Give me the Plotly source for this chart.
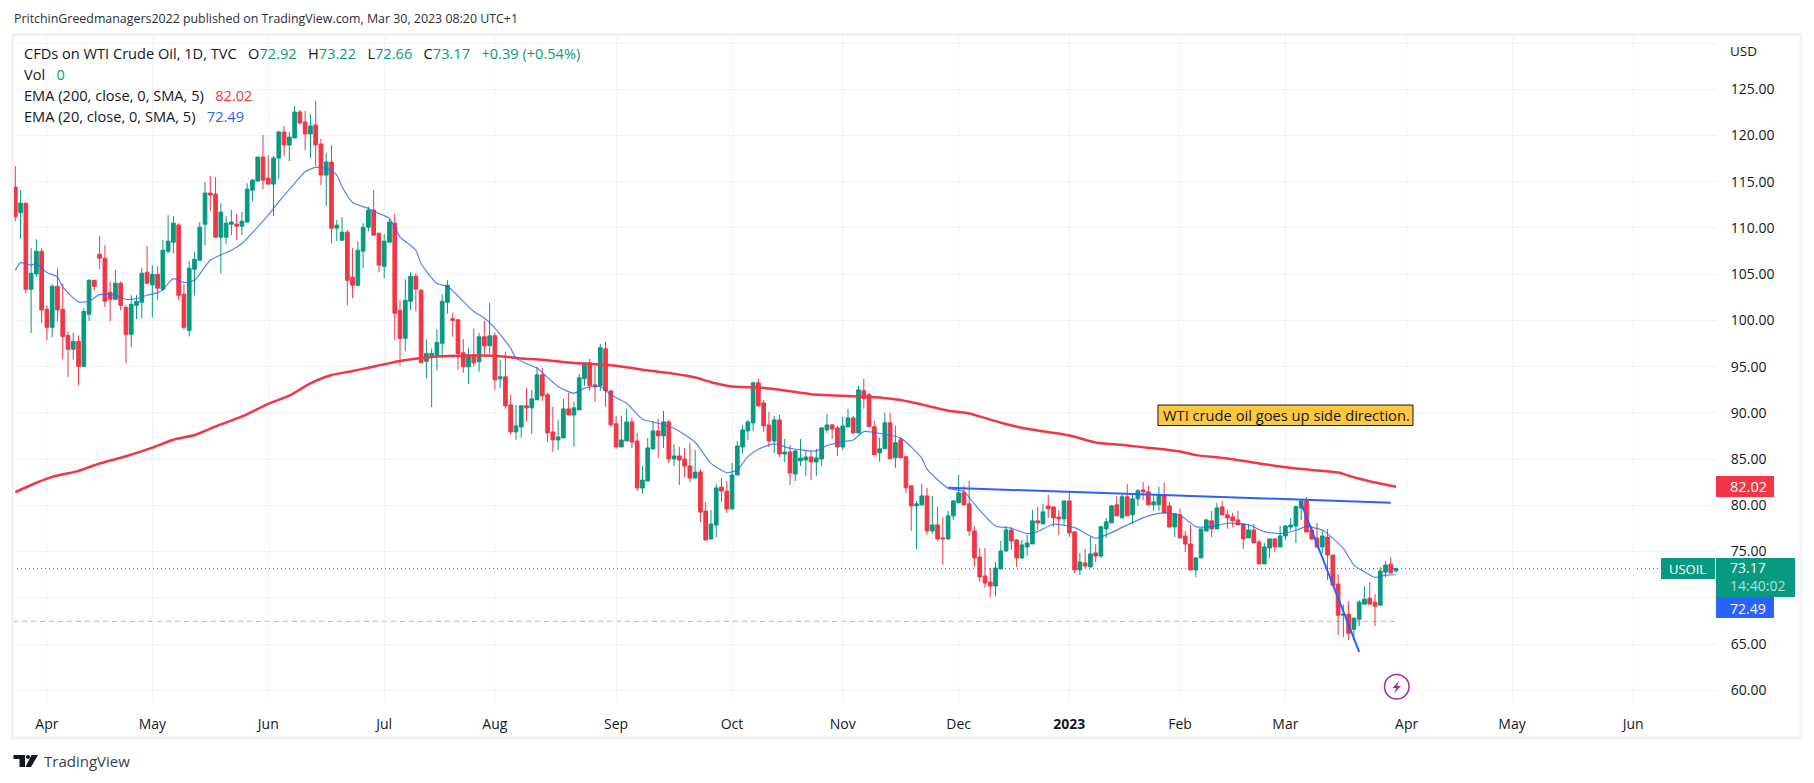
import pandas as pd
import plotly.graph_objects as go

holidays = ["2022-04-15", "2022-12-26", "2023-01-02"]
open_ = [114.42,111.64,112.68,103.37,105.03,107.48,101.20,99.25,103.69,101.20,98.38,96.87,97.73,95.02,100.66,104.34,107.16,106.73,103.04,102.28,
104.02,101.42,98.49,101.63,101.96,105.21,103.84,104.99,103.37,107.48,108.46,110.30,102.83,98.92,105.53,106.51,110.41,113.77,113.66,109.0,
109.0,110.41,110.41,110.19,110.63,114.09,115.07,117.67,115.39,114.74,117.56,120.38,118.97,119.73,122.54,121.46,120.16,121.14,119.08,115.72,
117.13,109.98,108.67,109.54,104.67,103.80,107.48,110.08,111.93,109.43,105.86,108.46,110.52,101.09,98.06,102.07,104.77,103.26,95.57,96.22,
96.22,97.52,101.96,100.18,100.07,96.50,94.98,96.28,95.52,98.23,97.26,98.34,93.68,93.90,90.86,87.94,88.48,90.76,90.54,91.41,
94.11,91.95,87.94,87.07,87.29,90.43,89.78,90.32,93.68,95.41,93.03,92.92,96.93,92.38,88.81,86.31,86.96,89.02,86.96,81.87,
82.63,86.10,88.05,87.51,89.02,85.01,85.34,85.01,84.25,82.95,83.60,79.38,76.35,77.86,81.98,81.55,79.60,83.28,86.31,88.05,
88.91,93.25,91.08,88.70,86.96,89.24,85.55,85.77,83.39,84.80,84.91,85.23,84.69,85.01,88.16,88.70,88.37,86.31,88.48,89.45,
87.83,92.40,91.97,88.50,85.68,86.12,88.93,85.14,87.09,85.25,82.11,79.94,80.05,81.02,77.23,77.88,76.47,76.37,78.86,80.27,
81.35,80.16,77.23,74.41,72.36,71.71,71.27,73.12,75.06,77.34,76.26,74.31,75.50,75.82,78.32,77.99,79.94,79.83,78.75,78.53,
80.48,77.12,73.01,73.76,73.33,74.85,74.52,77.45,78.10,80.05,78.64,80.92,78.97,80.70,81.67,81.46,80.05,80.05,81.13,79.94,
77.66,78.97,76.69,75.82,73.01,74.31,77.23,78.32,77.45,79.83,78.97,78.75,78.42,77.99,76.47,77.34,76.04,73.66,75.39,76.37,
75.50,76.68,77.65,77.76,79.71,80.47,77.33,76.46,75.49,76.57,74.62,71.48,68.12,68.23,66.60,67.69,69.31,69.96,69.53,69.20,
72.78,73.64,72.92]
high = [116.69,114.09,112.68,107.81,108.78,107.81,101.63,103.91,105.64,103.98,98.78,98.71,98.38,101.31,104.45,104.34,109.11,108.13,104.23,105.43,
104.23,101.63,102.72,102.72,105.64,108.03,105.97,105.86,108.67,111.38,111.28,110.52,103.91,106.40,107.38,110.63,114.96,115.61,115.50,112.68,
111.28,111.93,111.49,111.71,114.85,115.29,117.67,120.05,117.89,117.78,120.49,121.03,120.38,123.19,122.76,122.65,122.33,123.73,119.62,118.10,
118.97,110.84,111.17,109.76,107.81,108.57,110.52,112.29,114.09,109.43,109.33,110.95,111.49,102.17,104.45,105.21,105.10,103.37,97.95,96.97,
99.03,102.83,104.34,100.83,100.07,97.98,97.04,99.10,98.66,99.96,101.91,98.66,95.74,96.61,91.95,90.86,90.86,92.70,92.49,94.98,
94.87,92.16,90.65,89.24,91.51,92.16,91.19,94.22,95.41,95.85,95.09,97.47,97.69,92.38,89.67,89.67,90.43,89.45,87.83,84.25,
87.29,89.13,89.35,90.21,89.24,86.64,86.31,86.21,86.75,85.99,83.93,80.35,79.49,82.30,82.95,82.63,84.58,86.96,88.70,89.24,
93.35,93.68,91.41,90.11,89.67,89.78,87.18,86.53,85.99,87.18,85.88,85.88,86.10,88.48,89.89,88.81,88.59,89.56,90.43,89.67,
92.92,93.70,92.18,89.15,87.31,90.02,90.02,88.61,87.42,85.36,82.11,80.48,82.32,81.89,81.02,79.83,78.64,79.40,80.48,83.30,
82.11,82.65,77.77,75.39,75.39,73.22,73.87,76.15,77.77,77.67,76.37,76.26,76.80,79.51,79.83,80.16,81.13,79.83,79.51,80.48,
81.35,77.23,74.85,75.28,76.58,75.82,77.77,78.64,80.05,81.02,81.35,82.32,81.35,81.78,82.54,82.11,81.13,82.0,82.43,80.37,
79.18,79.62,77.23,77.88,74.41,77.45,78.53,79.40,80.27,80.48,79.51,79.18,79.40,77.99,77.99,77.99,76.26,75.93,76.37,76.37,
77.77,77.87,78.63,79.96,80.65,80.90,77.76,78.09,77.22,77.44,74.62,72.56,69.27,69.64,67.90,69.74,71.26,71.69,70.39,73.32,
73.97,74.40,73.22]
low = [110.73,108.82,102.97,98.64,104.70,99.72,97.84,98.20,99.90,95.78,93.87,95.75,93.00,94.95,99.94,103.26,105.53,101.45,99.90,102.28,
101.09,95.35,97.08,100.15,100.22,103.91,100.33,102.17,103.15,107.27,107.27,102.17,99.03,98.27,102.72,106.40,108.13,111.82,109.0,105.06,
108.24,109.22,108.67,109.22,110.63,112.90,115.07,114.20,114.74,111.28,115.29,117.78,117.23,119.73,121.14,118.43,117.56,116.69,114.63,112.36,
108.35,108.57,108.67,101.63,102.39,103.69,105.64,109.65,109.22,105.21,104.56,108.46,97.84,95.13,96.65,101.09,100.98,95.35,93.72,90.62,
94.59,95.89,100.73,98.23,94.65,94.33,93.14,95.02,94.44,96.17,96.39,92.49,92.70,90.43,87.61,87.07,87.29,89.13,87.72,91.41,
91.30,86.85,85.77,85.99,87.29,89.78,86.35,90.32,92.92,92.38,91.19,92.38,90.65,88.48,86.10,86.31,86.96,86.21,81.55,81.22,
82.63,86.10,85.12,86.21,84.58,84.25,82.20,83.06,82.52,82.95,78.19,76.24,76.35,76.56,80.35,79.16,79.60,83.28,85.55,87.07,
88.05,90.65,87.94,86.31,85.66,85.23,84.69,82.20,82.63,84.25,83.17,82.74,83.17,84.25,87.83,87.18,85.34,85.99,88.48,87.72,
87.83,90.45,88.50,85.47,84.71,86.12,85.03,84.06,85.14,81.35,77.23,75.28,79.94,76.80,76.91,76.15,73.55,76.26,78.42,80.27,
79.94,76.69,73.33,71.71,71.06,70.08,70.19,73.12,75.06,75.17,73.33,74.20,74.52,75.82,77.34,77.99,78.64,77.67,76.80,77.77,
76.58,72.68,72.46,73.22,73.33,73.87,74.31,76.47,78.10,78.86,78.64,78.86,77.99,79.94,80.59,80.05,79.40,79.40,79.18,77.66,
76.58,76.47,74.96,73.01,72.25,74.31,77.12,76.58,77.45,78.97,77.45,77.66,77.88,75.28,76.47,75.93,73.66,73.66,74.31,74.96,
75.50,76.24,77.33,75.92,78.41,77.11,76.24,75.38,74.84,71.91,71.37,65.95,65.73,65.41,65.41,66.93,69.31,69.31,66.93,69.20,
72.24,72.67,72.66]
close = [111.20,112.68,103.37,105.10,107.48,101.13,99.25,103.69,101.13,98.27,96.87,97.73,95.02,100.98,104.34,103.69,106.73,102.07,102.28,104.02,
101.63,98.49,101.74,102.07,105.10,104.02,104.99,103.48,107.59,108.57,110.52,102.72,99.25,105.64,106.62,110.08,113.77,113.55,109.0,111.71,
110.52,110.63,110.19,110.73,114.20,115.17,117.67,115.17,114.74,117.56,120.38,118.97,119.83,122.54,121.35,120.16,121.03,118.97,115.72,117.13,
109.98,110.30,109.54,104.34,103.80,107.59,110.08,111.93,109.22,105.97,108.57,110.63,100.77,98.06,102.17,104.77,103.37,95.46,96.43,96.43,
97.62,102.07,103.80,100.0,96.39,94.98,96.28,95.41,98.23,97.26,98.34,93.57,93.90,90.76,87.94,88.59,90.76,90.54,91.51,94.11,
91.84,87.83,87.07,87.40,90.43,89.78,90.54,93.79,95.41,92.92,92.81,97.04,92.38,88.70,86.31,87.07,89.02,86.85,81.87,82.74,
86.21,88.05,87.51,89.02,85.01,85.34,84.91,84.25,82.95,83.60,79.27,76.24,77.97,81.87,81.55,79.60,83.28,86.42,88.16,89.02,
93.25,90.76,88.59,86.96,89.24,85.55,85.77,83.50,85.88,85.12,85.23,84.69,85.12,88.37,88.70,88.26,86.31,88.59,89.45,87.83,
92.49,91.53,88.50,85.47,86.12,88.93,85.03,86.77,85.14,81.89,79.94,80.16,81.02,77.23,77.88,76.37,76.37,78.86,80.48,81.35,
80.05,77.23,74.31,72.25,71.60,71.27,73.22,75.06,77.34,76.15,74.31,75.72,75.93,78.32,78.10,79.29,79.62,78.64,78.53,80.48,
77.02,73.01,73.87,73.44,74.74,74.52,77.67,78.21,79.94,78.86,80.92,78.86,80.70,81.57,81.46,80.05,80.37,81.13,79.18,77.66,
79.07,76.47,75.82,73.01,74.31,77.45,78.42,77.45,79.72,78.97,78.64,78.32,77.88,76.37,77.34,75.93,73.66,75.50,76.37,75.50,
76.69,77.76,77.87,79.86,80.47,77.11,76.35,75.49,76.68,74.62,71.37,68.12,68.23,66.17,67.79,69.53,69.85,69.31,69.09,72.89,
73.54,72.67,73.17]

ema20_bar = [0,1,3,4,6,8,9,12,14,16,19,21,23,25,27,28,30,32,34,37,41,43,46,48,50,53,55,57,59,61,62,64,67,69,71,73,76,77,80,82,
85,87,89,91,94,95,98,99,103,106,108,111,113,116,119,122,125,129,132,135,137,139,141,144,147,152,154,157,159,161,164,
168,172,173,177,180,182,186,189,192,194,197,201,205,208,211,215,218,221,224,227,230,234,237,240,243,245,248,250,252,254,256,258,260,262]
ema20_val = [105.43,106.25,105.97,106.15,105.17,104.70,103.62,102.0,102.07,102.79,102.72,102.28,102.36,102.72,103.0,103.33,104.52,104.09,104.34,106.51,107.59,108.31,110.12,111.38,112.83,114.82,116.08,116.55,116.44,115.72,114.45,112.76,112.11,111.56,111.02,109.04,107.59,106.15,103.98,103.69,
102.06,100.97,100.25,99.17,97.0,95.92,95.09,94.84,92.85,92.13,92.67,92.85,91.95,91.04,89.31,88.88,88.33,86.82,84.54,83.53,83.82,85.27,86.06,86.64,86.17,85.88,86.46,86.89,87.07,87.97,87.79,
87.27,85.1,83.91,81.85,81.49,80.12,77.77,77.52,76.94,77.16,77.95,77.59,76.44,77.05,77.88,78.86,79.18,78.93,77.70,77.70,78.06,77.88,77.16,76.94,77.30,77.69,77.33,76.42,75.34,73.54,72.81,72.2,72.45,72.49]
ema200_bar = [0,4,7,12,16,21,26,30,34,38,43,48,52,56,60,64,67,73,78,82,91,96,100,106,112,116,119,124,129,132,136,141,146,151,160,164,168,173,177,181,187,192,200,205,211,221,224,230,236,241,246,251,254,258,262]
ema200_val = [81.43,82.44,83.08,83.73,84.52,85.3,86.24,87.1,87.6,88.53,89.61,90.97,91.86,93.19,94.1,94.52,94.88,95.6,95.99,96.14,96.17,95.88,95.74,95.38,95.2,94.94,94.66,94.3,93.82,93.32,92.85,92.74,92.42,92.02,91.77,91.66,91.39,90.77,90.23,89.94,88.93,88.28,87.56,86.8,86.48,85.83,85.43,85.07,84.53,84.13,83.83,83.54,83.03,82.46,82.02]
trend_flat_bar = [177, 261]
trend_flat_val = [81.89, 80.29]
trend_steep_bar = [244, 255]
trend_steep_val = [80.2, 64.14]
last_price = 73.17
pre_price = 67.45

price_ticks = list(range(60, 135, 5))
price_labels = [f"{v:.2f}" if v < 130 else "" for v in price_ticks]
month_ticks = ["2022-04-01","2022-05-02","2022-06-01","2022-07-01","2022-08-01","2022-09-01","2022-10-03","2022-11-01",
               "2022-12-01","2023-01-03","2023-02-01","2023-03-01","2023-04-03","2023-05-01","2023-06-01"]
month_labels = ["Apr","May","Jun","Jul","Aug","Sep","Oct","Nov","Dec","<b>2023</b>","Feb","Mar","Apr","May","Jun"]

GREEN = "#089981"; RED = "#f23645"; BLUE = "#2962ff"; INK = "#131722"; FRAME = "#f0f3fa"
FONT = "Open Sans"

days = pd.bdate_range("2022-03-24", "2023-03-30")
days = [d.strftime("%Y-%m-%d") for d in days if d.strftime("%Y-%m-%d") not in holidays]
n = min(len(days), len(open_), len(high), len(low), len(close))
days_n = days[:n]
pick = lambda idx: [days[i] for i in idx]

L, R, T, B = 13, 1716, 36, 703
px = lambda v: (v - L) / (R - L)
py = lambda v: (B - v) / (B - T)

fig = go.Figure()
fig.add_trace(go.Candlestick(x=days_n, open=open_[:n], high=high[:n], low=low[:n], close=close[:n],
    increasing=dict(line=dict(color=GREEN, width=1), fillcolor=GREEN),
    decreasing=dict(line=dict(color=RED, width=1), fillcolor=RED),
    whiskerwidth=0, hoverinfo="skip"))
fig.add_trace(go.Scatter(x=pick(ema200_bar), y=ema200_val, mode="lines", line=dict(color=RED, width=2.5, shape="spline", smoothing=0.6), hoverinfo="skip"))
fig.add_trace(go.Scatter(x=pick(ema20_bar), y=ema20_val, mode="lines", line=dict(color="rgba(41,98,255,0.8)", width=1.2, shape="spline", smoothing=0.6), hoverinfo="skip"))
fig.add_trace(go.Scatter(x=pick(trend_flat_bar), y=trend_flat_val, mode="lines", line=dict(color=BLUE, width=2), hoverinfo="skip"))
fig.add_trace(go.Scatter(x=pick(trend_steep_bar), y=trend_steep_val, mode="lines", line=dict(color=BLUE, width=2), hoverinfo="skip"))

XR = ["2022-03-23 13:30", "2023-06-22 17:00"]
shapes = []
def rect(x0, y0, x1, y1, fill, line=None, lw=0):
    shapes.append(dict(type="rect", xref="paper", yref="paper", x0=px(x0), x1=px(x1), y0=py(y0), y1=py(y1),
                       fillcolor=fill, line=dict(color=line or fill, width=lw), layer="above"))
def path(points, fill):
    d = "M " + " L ".join(f"{px(a):.5f},{py(b):.5f}" for a, b in points) + " Z"
    shapes.append(dict(type="path", xref="paper", yref="paper", path=d, fillcolor=fill, line=dict(width=0), layer="above"))

# price lines
shapes.append(dict(type="line", xref="paper", yref="y", x0=0, x1=px(1661), y0=last_price, y1=last_price,
                   line=dict(color=GREEN, width=1, dash="1px,3px"), layer="below"))
shapes.append(dict(type="line", xref="x", yref="y", x0=XR[0], x1=days[-1], y0=pre_price, y1=pre_price,
                   line=dict(color="rgba(242,54,69,0.45)", width=1, dash="5px,13px"), layer="below"))
shapes.append(dict(type="line", xref="x", yref="y", x0=XR[0], x1=days[-1], y0=pre_price, y1=pre_price,
                   line=dict(color="rgba(8,153,129,0.5)", width=1, dash="0px,9px,5px,4px"), layer="below"))
# frame
shapes.append(dict(type="rect", xref="paper", yref="paper", x0=px(12.5), x1=px(1801), y0=py(34.5), y1=py(738),
                   fillcolor="rgba(0,0,0,0)", line=dict(color=FRAME, width=3), layer="above"))
# price tags
rect(1661, 558, 1715, 579, GREEN)
rect(1716, 476, 1774, 497, RED)
rect(1716, 558, 1795, 597, GREEN)
rect(1716, 597, 1774, 618, BLUE)
# note
rect(1158, 405, 1413, 425.5, "#ffc83d", "#131722", 1)
# lightning icon
shapes.append(dict(type="circle", xref="paper", yref="paper", x0=px(1384.5), x1=px(1409), y0=py(674.5), y1=py(699),
                   fillcolor="white", line=dict(color="#9c27b0", width=1.5), layer="above"))
path([(1399.5,680.5),(1392.5,688),(1396.5,688),(1394,693.5),(1401,686),(1397,686)], "#9c27b0")
# logo
path([(13.5,755),(25,755),(25,767),(19.5,767),(19.5,759),(13.5,759)], INK)
path([(31.5,755),(38,755),(31,767),(25.5,767)], INK)
shapes.append(dict(type="circle", xref="paper", yref="paper", x0=px(26), x1=px(30), y0=py(755), y1=py(759),
                   fillcolor=INK, line=dict(width=0), layer="above"))

ann = []
def text(x, y, s, size=13, color=INK, anchor="left"):
    ann.append(dict(xref="paper", yref="paper", x=px(x), y=py(y), text=s, showarrow=False, xanchor=anchor, yanchor="middle",
                    align="left", borderpad=0, font=dict(family=FONT, size=size, color=color)))
def span(s, c):
    return f'<span style="color:{c}">{s}</span>'
text(13, 18, "PritchinGreedmanagers2022 published on TradingView.com, Mar 30, 2023 08:20 UTC+1", 12.4, "#2a2e39")
gap = "\u00a0\u00a0\u00a0"
text(23, 53, "CFDs on WTI Crude Oil, 1D, TVC" + gap + "O" + span("72.92", GREEN) + gap + "H" + span("73.22", GREEN)
     + gap + "L" + span("72.66", GREEN) + gap + "C" + span("73.17", GREEN) + gap + span("+0.39 (+0.54%)", GREEN), 14.6)
text(23, 74, "Vol" + gap + span("0", GREEN), 14.6)
text(23, 95, "EMA (200, close, 0, SMA, 5)" + gap + span("82.02", RED), 14.6)
text(23, 116, "EMA (20, close, 0, SMA, 5)" + gap + span("72.49", BLUE), 14.6)
text(1729, 51, "USD", 13.5)
text(1668, 568.5, "USOIL", 13, "white")
text(1729, 486.5, "82.02", 14.5, "white")
text(1729, 576.5, "73.17<br>" + span("14:40:02", "rgba(255,255,255,0.7)"), 14, "white")
text(1729, 608, "72.49", 14, "white")
text(1162, 415, "WTI crude oil goes up side direction.", 14.7, INK)
text(43, 761, "TradingView", 15, "#3a3f4b")

fig.update_layout(
    width=1814, height=783, autosize=False, showlegend=False, paper_bgcolor="white", plot_bgcolor="white",
    margin=dict(l=L, r=1814 - R, t=T, b=783 - B, pad=0), shapes=shapes, annotations=ann,
    boxgap=0.3, boxgroupgap=0,
    font=dict(family=FONT, size=14, color=INK),
    xaxis=dict(type="date", range=XR, rangeslider=dict(visible=False),
               rangebreaks=[dict(bounds=["sat", "mon"]), dict(values=holidays)],
               tickmode="array", tickvals=month_ticks, ticktext=month_labels, showgrid=True, gridcolor=FRAME, gridwidth=1,
               zeroline=False, showline=False, ticks="outside", ticklen=8, tickcolor="rgba(0,0,0,0)", tickangle=0),
    yaxis=dict(side="right", range=[58.62, 130.76], tickmode="array", tickvals=price_ticks, ticktext=price_labels,
               showgrid=True, gridcolor=FRAME, gridwidth=1, zeroline=False, showline=False,
               ticks="outside", ticklen=11, tickcolor="rgba(0,0,0,0)"),
)
fig.write_html("out.html", config=dict(displayModeBar=False), post_script="document.body.style.margin='0';")
